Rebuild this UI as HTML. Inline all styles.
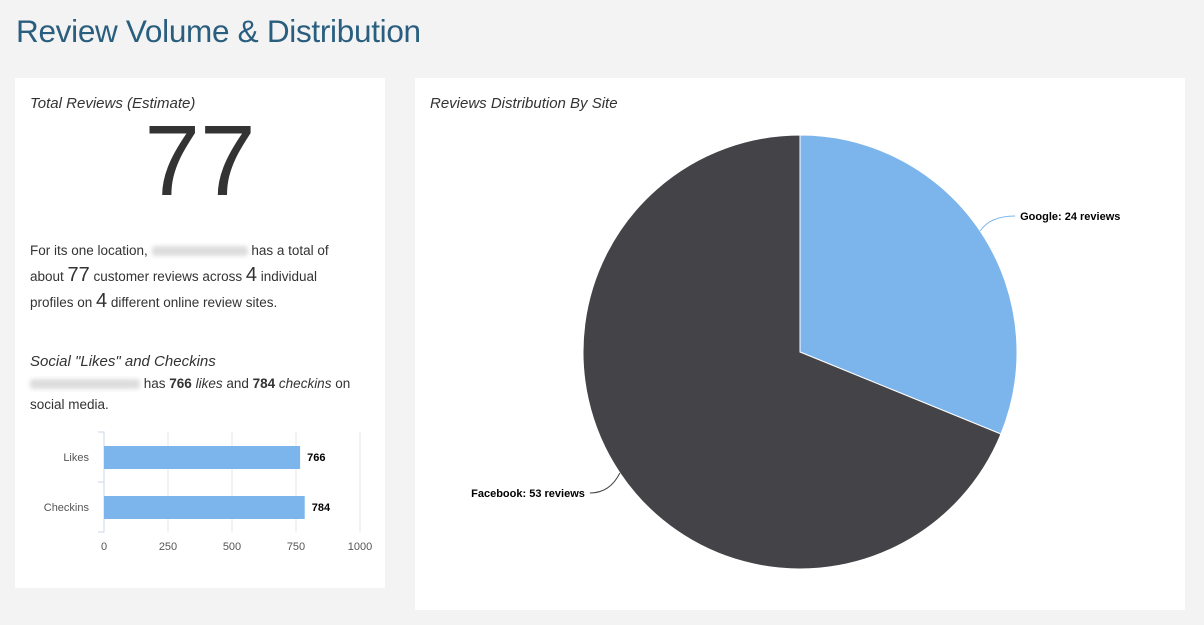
<!DOCTYPE html>
<html><head><meta charset="utf-8"><style>
body{margin:0;width:1204px;height:625px;background:#f3f3f3;font-family:"Liberation Sans",sans-serif;position:relative;overflow:hidden;color:#333}
.abs{position:absolute}
.card{position:absolute;background:#fff}
.blur{display:inline-block;width:96px;height:10px;background:#ddd;filter:blur(2px);vertical-align:middle;border-radius:3px}
p{margin:0}
</style></head><body>
<div class="abs" style="left:16px;top:13px;font-size:31.5px;color:#2a5e7e;font-weight:300;letter-spacing:-0.3px">Review Volume &amp; Distribution</div>

<div class="card" style="left:15px;top:78px;width:370px;height:510px">
  <div class="abs" style="left:15px;top:17px;font-size:15px;font-style:italic">Total Reviews (Estimate)</div>
  <div class="abs" style="left:0;width:370px;text-align:center;top:28px;font-size:100px;line-height:110px;color:#333">77</div>
  <div class="abs" style="left:15px;top:160px;width:330px;font-size:13.5px;line-height:25px">For its one location, <span class="blur"></span> has a total of about <span style="font-size:20px">77</span> customer reviews across <span style="font-size:20px">4</span> individual profiles on <span style="font-size:20px">4</span> different online review sites.</div>
  <div class="abs" style="left:15px;top:275px;font-size:15px;font-style:italic">Social "Likes" and Checkins</div>
  <div class="abs" style="left:15px;top:295px;width:340px;font-size:13.5px;line-height:21px"><span class="blur" style="width:110px"></span> has <b>766</b> <i>likes</i> and <b>784</b> <i>checkins</i> on social media.</div>
</div>

<div class="card" style="left:415px;top:78px;width:770px;height:532px">
  <div class="abs" style="left:15px;top:17px;font-size:15px;font-style:italic">Reviews Distribution By Site</div>
</div>

<svg class="abs" style="left:0;top:0" width="1204" height="625" id="svg"></svg>
<script>
const barCategories=["Likes","Checkins"];
const barValues=[766,784];
const barTicks=[0,250,500,750,1000];
const pieLabels=["Google","Facebook"];
const pieValues=[24,53];
const pieColors=["#7cb5ec","#434348"];
const NS="http://www.w3.org/2000/svg";
const svg=document.getElementById("svg");
function mk(t,a,txt){const e=document.createElementNS(NS,t);for(const k in a)e.setAttribute(k,a[k]);if(txt!==undefined)e.textContent=txt;svg.appendChild(e);return e;}
const x0=104,xMax=1000,xw=256,yTop=432,band=50;
const xs=v=>x0+v/xMax*xw;
barTicks.forEach(t=>{
  if(t>0){const g=mk("line",{x1:xs(t),x2:xs(t),y1:yTop,y2:yTop+band*barCategories.length,stroke:"#e6e6e6"});
  
  }
  const l=mk("text",{x:xs(t),y:550,"text-anchor":"middle","font-size":11,fill:"#555","font-family":"Liberation Sans"},t);
  
  
});
const ax=mk("path",{d:`M${x0-6} ${yTop}H${x0}V${yTop+band*2}H${x0-6}M${x0-6} ${yTop+band}H${x0}`,stroke:"#ccd6eb",fill:"none"});


barCategories.forEach((c,i)=>{
  const yc=yTop+band*i+band/2;
  const r=mk("rect",{x:x0,y:yc-11,width:xs(barValues[i])-x0,height:23,fill:"#7cb5ec"});
  
  
  const t=mk("text",{x:89,y:yc+4,"text-anchor":"end","font-size":11,fill:"#555","font-family":"Liberation Sans"},c);
  
  
  const v=mk("text",{x:xs(barValues[i])+7,y:yc+4,"font-size":11,"font-weight":"bold",fill:"#000","font-family":"Liberation Sans"},barValues[i]);
  
  
});
const cx=800,cy=352,R=217;
const total=pieValues.reduce((a,b)=>a+b,0);
let a0=-Math.PI/2;
pieValues.forEach((v,i)=>{
  const a1=a0+v/total*2*Math.PI;
  const large=(a1-a0)>Math.PI?1:0;
  const p=mk("path",{d:`M${cx} ${cy}L${cx+R*Math.cos(a0)} ${cy+R*Math.sin(a0)}A${R} ${R} 0 ${large} 1 ${cx+R*Math.cos(a1)} ${cy+R*Math.sin(a1)}Z`,fill:pieColors[i],stroke:"#fff","stroke-width":1});
  
  
  const am=(a0+a1)/2;
  const ex=cx+R*Math.cos(am),ey=cy+R*Math.sin(am);
  const right=Math.cos(am)>0;
  const lx=ex+(right?35:-30),ly=ey+(right?-15:20);
  const ln=mk("path",{d:`M${ex} ${ey}Q${ex+(right?10:-10)} ${ly} ${lx} ${ly}`,stroke:pieColors[i],fill:"none"});
  
  
  const t=mk("text",{x:right?lx+5:lx-5,y:ly+4,"text-anchor":right?"start":"end","font-size":11,"font-weight":"bold",fill:"#000","font-family":"Liberation Sans"},pieLabels[i]+": "+v+" reviews");
  
  
  a0=a1;
});
</script>
</body></html>
